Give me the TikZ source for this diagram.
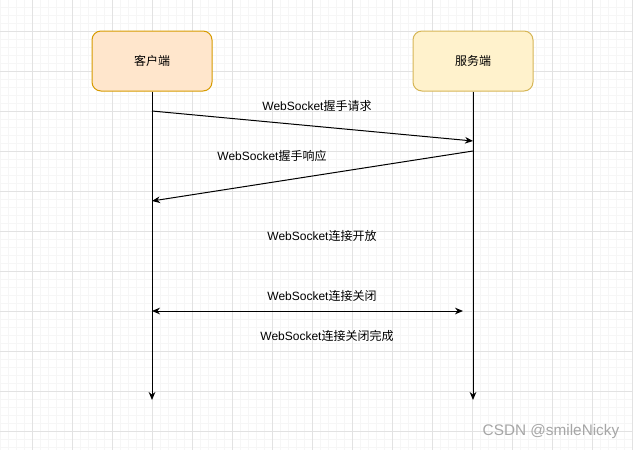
\documentclass[tikz,border=0pt]{standalone}
\usepackage{fontspec}
\setmainfont{Liberation Sans}
\newfontfamily\cjk{Noto Sans CJK SC}
\usetikzlibrary{arrows.meta,calc,positioning}
\definecolor{clientfill}{HTML}{FFE6CC}
\definecolor{clientline}{HTML}{D79B00}
\definecolor{serverfill}{HTML}{FFF2CC}
\definecolor{serverline}{HTML}{D6B656}
\definecolor{gridminor}{HTML}{F6F6F6}
\definecolor{gridmajor}{HTML}{E2E2E2}

\begin{document}
\begin{tikzpicture}[x=0.75pt,y=-0.75pt,
  box/.style={rounded corners=9pt*0.75,minimum width=120*0.75pt,minimum height=60*0.75pt,line width=0.75pt,font=\cjk\fontsize{9}{11}\selectfont},
  lifeline/.style={line width=0.75pt,-{Stealth[length=6pt,width=5pt]}},
  msg/.style={line width=0.75pt,-{Stealth[length=6pt,width=5pt]}},
  lbl/.style={font=\fontsize{9}{11}\selectfont,inner sep=0pt}]
\useasboundingbox (0,0) rectangle (633,450);
\fill[white] (0,0) rectangle (633,450);
% grid
\foreach \x in {0,8,...,632} \draw[gridminor,line width=0.5pt] (\x,0)--(\x,450);
\foreach \y in {7,15,...,450} \draw[gridminor,line width=0.5pt] (0,\y)--(633,\y);
\foreach \x in {32,72,...,632} \draw[gridmajor,line width=0.6pt] (\x,0)--(\x,450);
\foreach \y in {31,71,...,450} \draw[gridmajor,line width=0.6pt] (0,\y)--(633,\y);

\node[box,fill=clientfill,draw=clientline] (client) at (152,61) {客户端};
\node[box,fill=serverfill,draw=serverline] (server) at (473,61) {服务端};

\coordinate (clientEnd) at (152,400);
\coordinate (serverEnd) at (473,400);
\draw[lifeline] (client.south)--(clientEnd);
\draw[lifeline] (server.south)--(serverEnd);

\coordinate (req1) at (152,111);  \coordinate (req2) at (473,141);
\coordinate (res1) at (473,151);  \coordinate (res2) at (152,201);
\coordinate (cls1) at (152,311);  \coordinate (cls2) at (463,311);
\draw[msg] (req1)--(req2);
\draw[msg] (res1)--(res2);
\draw[msg,{Stealth[length=6pt,width=5pt]}-{Stealth[length=6pt,width=5pt]}] (cls1)--(cls2);

\node[lbl] (reqLabel) at (317,106) {WebSocket{\cjk 握手请求}};
\node[lbl] (resLabel) at (272,156) {WebSocket{\cjk 握手响应}};
\node[lbl] (openLabel) at (322,236) {WebSocket{\cjk 连接开放}};
\node[lbl] (closeLabel) at (322,296) {WebSocket{\cjk 连接关闭}};
\node[lbl] (doneLabel) at (327,336) {WebSocket{\cjk 连接关闭完成}};

\node[font=\fontsize{11.5}{13}\selectfont,text=gray!70,inner sep=0pt] (mark) at (551,432) {CSDN @smileNicky};
\end{tikzpicture}
\end{document}
